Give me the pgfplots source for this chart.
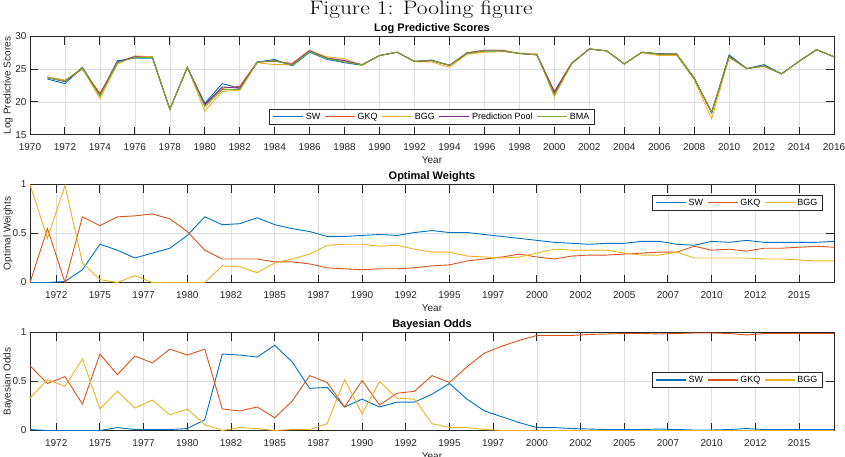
\documentclass[border=0pt]{standalone}
\usepackage{fontspec}
\newfontfamily\helv{Liberation Sans}
\usepackage{graphicx}
\usepackage{pgfplots}
\usepackage{pgfplotstable}
\pgfplotsset{compat=1.18}

\definecolor{cSW}{rgb}{0,0.447,0.741}
\definecolor{cGKQ}{rgb}{0.85,0.325,0.098}
\definecolor{cBGG}{rgb}{0.929,0.694,0.125}
\definecolor{cPP}{rgb}{0.494,0.184,0.556}
\definecolor{cBMA}{rgb}{0.466,0.674,0.188}
\definecolor{axc}{gray}{0.15}
\definecolor{gridc}{gray}{0.87}

\pgfplotstableread{
year SW GKQ BGG PP BMA
1971 23.5 23.8 23.8 23.7 23.7
1972 22.8 23.3 23.3 23.1 23.2
1973 25.3 25.0 25.1 25.2 25.2
1974 21.1 21.3 20.5 21.0 20.9
1975 26.3 26.0 25.8 26.1 26.0
1976 26.7 27.0 27.0 26.9 26.8
1977 26.7 26.9 26.9 26.8 26.8
1978 18.9 18.9 18.9 18.9 18.9
1979 25.3 25.2 25.3 25.3 25.3
1980 19.8 19.5 18.6 19.6 19.3
1981 22.8 22.1 21.6 22.3 21.9
1982 22.1 22.4 21.8 22.1 21.9
1983 26.1 26.1 26.0 26.1 26.1
1984 26.5 26.2 25.7 26.3 26.3
1985 25.5 25.9 25.7 25.7 25.6
1986 27.6 27.9 27.8 27.8 27.7
1987 26.5 26.7 26.9 26.7 26.6
1988 26.0 26.3 26.6 26.3 26.1
1989 25.6 25.7 25.6 25.7 25.7
1990 27.1 27.1 27.1 27.1 27.1
1991 27.6 27.6 27.6 27.6 27.6
1992 26.2 26.2 26.1 26.2 26.2
1993 26.4 26.3 26.1 26.3 26.3
1994 25.6 25.6 25.3 25.6 25.6
1995 27.5 27.5 27.3 27.4 27.4
1996 27.9 27.9 27.6 27.8 27.8
1997 27.9 27.9 27.7 27.8 27.8
1998 27.4 27.4 27.5 27.4 27.4
1999 27.2 27.3 27.3 27.2 27.2
2000 21.2 21.6 20.8 21.5 21.1
2001 25.9 26.0 25.9 25.9 25.9
2002 28.1 28.1 28.1 28.1 28.1
2003 27.8 27.8 27.8 27.8 27.8
2004 25.8 25.8 25.8 25.8 25.8
2005 27.6 27.6 27.5 27.6 27.6
2006 27.4 27.3 27.1 27.3 27.3
2007 27.3 27.3 27.1 27.3 27.3
2008 23.7 23.6 23.4 23.6 23.6
2009 18.3 18.5 17.4 18.4 18.4
2010 27.2 26.9 26.8 27.0 26.9
2011 25.1 25.1 25.1 25.1 25.1
2012 25.7 25.5 25.4 25.5 25.5
2013 24.3 24.3 24.3 24.3 24.3
2014 26.2 26.2 26.2 26.2 26.2
2015 28.0 28.0 28.0 28.0 28.0
2016 26.9 26.9 26.9 26.9 26.9
}\lps

\pgfplotstableread{
year SW GKQ BGG
1971 0.00 0.00 1.00
1972 0.00 0.55 0.45
1973 0.01 0.00 0.99
1974 0.13 0.67 0.20
1975 0.39 0.58 0.03
1976 0.33 0.67 0.00
1977 0.25 0.68 0.07
1978 0.30 0.70 0.00
1979 0.35 0.65 0.00
1980 0.48 0.52 0.00
1981 0.67 0.33 0.00
1982 0.59 0.24 0.17
1983 0.60 0.24 0.16
1984 0.66 0.24 0.10
1985 0.59 0.21 0.20
1986 0.55 0.21 0.24
1987 0.52 0.19 0.29
1988 0.47 0.15 0.38
1989 0.47 0.14 0.39
1990 0.48 0.13 0.39
1991 0.49 0.14 0.37
1992 0.48 0.14 0.38
1993 0.51 0.15 0.34
1994 0.53 0.17 0.31
1995 0.51 0.18 0.31
1996 0.51 0.22 0.27
1997 0.49 0.24 0.26
1998 0.47 0.26 0.25
1999 0.45 0.29 0.26
2000 0.43 0.26 0.30
2001 0.41 0.24 0.34
2002 0.40 0.27 0.33
2003 0.39 0.28 0.33
2004 0.40 0.28 0.33
2005 0.40 0.29 0.30
2006 0.42 0.30 0.28
2007 0.42 0.31 0.28
2008 0.39 0.31 0.31
2009 0.38 0.37 0.25
2010 0.42 0.33 0.25
2011 0.41 0.34 0.25
2012 0.43 0.32 0.25
2013 0.41 0.35 0.24
2014 0.41 0.35 0.24
2015 0.41 0.36 0.23
2016 0.41 0.37 0.22
2017 0.42 0.36 0.22
}\weights

\pgfplotstableread{
year SW GKQ BGG
1971 0.01 0.66 0.33
1972 0.00 0.48 0.52
1973 0.00 0.55 0.45
1974 0.00 0.27 0.73
1975 0.00 0.78 0.22
1976 0.03 0.57 0.40
1977 0.01 0.76 0.23
1978 0.01 0.69 0.31
1979 0.01 0.83 0.16
1980 0.02 0.77 0.22
1981 0.11 0.83 0.06
1982 0.78 0.22 0.00
1983 0.77 0.20 0.03
1984 0.75 0.24 0.02
1985 0.87 0.13 0.00
1986 0.70 0.30 0.01
1987 0.43 0.56 0.01
1988 0.44 0.49 0.07
1989 0.24 0.24 0.52
1990 0.32 0.51 0.17
1991 0.24 0.26 0.50
1992 0.29 0.38 0.33
1993 0.29 0.40 0.32
1994 0.37 0.56 0.07
1995 0.48 0.49 0.03
1996 0.32 0.65 0.03
1997 0.20 0.79 0.01
1998 0.14 0.86 0.00
1999 0.08 0.92 0.00
2000 0.03 0.97 0.00
2001 0.03 0.97 0.00
2002 0.02 0.97 0.00
2003 0.015 0.98 0.00
2004 0.01 0.985 0.00
2005 0.01 0.99 0.00
2006 0.01 0.99 0.00
2007 0.015 0.985 0.00
2008 0.01 0.99 0.00
2009 0.005 0.995 0.00
2010 0.005 0.995 0.00
2011 0.01 0.99 0.00
2012 0.02 0.975 0.00
2013 0.01 0.99 0.00
2014 0.01 0.99 0.00
2015 0.01 0.99 0.00
2016 0.01 0.99 0.00
2017 0.01 0.99 0.00
}\odds

\pgfplotsset{
  mstyle/.style={
    scale only axis, width=804pt,
    axis line style={axc, line width=0.8pt},
    tick pos=both, tick align=inside,
    major tick length=8pt,
    tick style={axc, line width=1pt},
    grid=major, grid style={gridc, line width=0.6pt},
    ticklabel style={font=\helv\fontsize{10}{12}\selectfont, text=axc},
    xticklabel style={anchor=north, yshift=-5pt},
    /pgf/number format/assume math mode=true,
    /pgf/number format/1000 sep={},
    every axis title/.style={font=\helv\bfseries\fontsize{11}{13}\selectfont, at={(axis description cs:0.5,1)}, anchor=base, yshift=4.6pt},
    every axis x label/.style={at={(axis description cs:0.5,-0.26)}, anchor=center, font=\helv\fontsize{10}{12}\selectfont, text=axc},
    every axis y label/.style={at={(axis description cs:-0.0274,0.5)}, rotate=90, anchor=center, font=\helv\fontsize{10}{12}\selectfont, text=axc},
    legend image code/.code={\draw[#1, line width=1.2pt] (0pt,0pt) -- (30pt,0pt);},
    legend style={font=\helv\fontsize{9}{11}\selectfont, draw=axc, line width=1pt, fill=white,
      inner xsep=3pt, inner ysep=2pt, column sep=0pt,
      nodes={inner xsep=2pt, inner ysep=1.5pt, text height=6.5pt, text depth=1.5pt},
      /tikz/every even column/.append style={column sep=2pt}},
    every axis plot/.append style={line width=0.9pt, mark=none},
  },
  lowstyle/.style={
    mstyle, height=98pt,
    xmin=1971, xmax=2017, ymin=0, ymax=1,
    xtick={1972.5,1975,1977.5,1980,1982.5,1985,1987.5,1990,1992.5,1995,1997.5,2000,2002.5,2005,2007.5,2010,2012.5,2015},
    xticklabels={1972,1975,1977,1980,1982,1985,1987,1990,1992,1995,1997,2000,2002,2005,2007,2010,2012,2015},
    ytick={0,0.5,1}, yticklabels={0,0.5,1},
    xlabel={Year},
    legend columns=3,
  },
}

\begin{document}
\begin{tikzpicture}
\path[use as bounding box] (0pt,0pt) rectangle (845pt,-456pt);
\node[anchor=base, inner sep=0pt] at (421pt,-14.8pt) {\scalebox{1.2}[1]{\fontsize{19.5}{22}\selectfont Figure 1: Pooling figure}};

\begin{axis}[mstyle, at={(30pt,-134.7pt)}, anchor=south west, height=98.2pt,
  xmin=1970, xmax=2016, ymin=15, ymax=30,
  xtick={1970,1972,...,2016}, ytick={15,20,25,30},
  title={Log Predictive Scores}, xlabel={Year}, ylabel={Log Predictive Scores},
  legend columns=5,
  legend style={at={(axis description cs:0.5,0.102)}, anchor=south}]
\addplot[cSW] table[x=year,y=SW] {\lps};
\addplot[cGKQ] table[x=year,y=GKQ] {\lps};
\addplot[cBGG] table[x=year,y=BGG] {\lps};
\addplot[cPP] table[x=year,y=PP] {\lps};
\addplot[cBMA] table[x=year,y=BMA] {\lps};
\legend{SW,GKQ,BGG,Prediction Pool,BMA}
\end{axis}

\begin{axis}[lowstyle, at={(30pt,-282.5pt)}, anchor=south west,
  title={Optimal Weights}, ylabel={Optimal Weights},
  legend style={at={(axis description cs:0.9863,0.898)}, anchor=north east}]
\addplot[cSW] table[x=year,y=SW] {\weights};
\addplot[cGKQ] table[x=year,y=GKQ] {\weights};
\addplot[cBGG] table[x=year,y=BGG] {\weights};
\legend{SW,GKQ,BGG}
\end{axis}

\begin{axis}[lowstyle, at={(30pt,-430.5pt)}, anchor=south west,
  title={Bayesian Odds}, ylabel={Bayesian Odds},
  legend style={at={(axis description cs:0.9863,0.5)}, anchor=east, yshift=1.5pt}]
\addplot[cSW] table[x=year,y=SW] {\odds};
\addplot[cGKQ] table[x=year,y=GKQ] {\odds};
\addplot[cBGG] table[x=year,y=BGG] {\odds};
\legend{SW,GKQ,BGG}
\end{axis}
\end{tikzpicture}
\end{document}
